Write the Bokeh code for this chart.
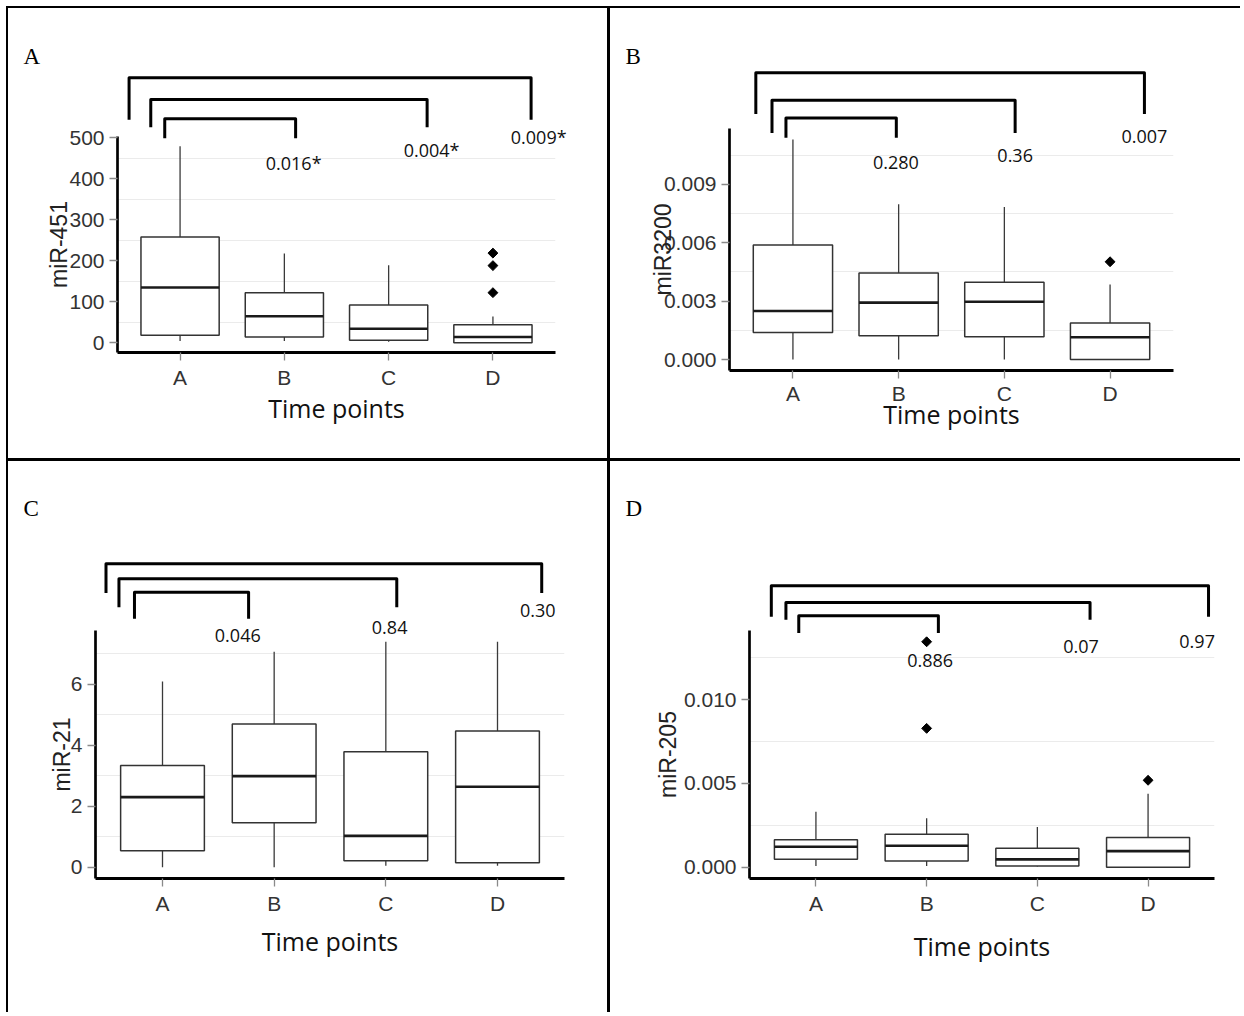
import math
from bokeh.plotting import figure
from bokeh.models import Range1d, FixedTicker, Spacer
from bokeh.layouts import row, column
from bokeh.embed import file_html
from bokeh.resources import INLINE
from bokeh.core.properties import value

categories = ["A", "B", "C", "D"]
x_title = "Time points"

# ---- Panel A : miR-451 ----
a_lower = [4, 4, 2.5, 0]
a_q1 = [18, 14, 6, 0]
a_median = [134.5, 64.5, 34, 14]
a_q3 = [258, 121.5, 92, 44]
a_upper = [479, 217.6, 189, 64]
a_out_cat = ["D", "D", "D"]
a_out_val = [122, 188, 218.5]
a_ticks = [0, 100, 200, 300, 400, 500]
a_tick_labels = ["0", "100", "200", "300", "400", "500"]
a_pvalues = ["0.016*", "0.004*", "0.009*"]
a_bracket_left = [0.853, 0.719, 0.511]
a_bracket_right = [2.108, 3.369, 4.366]
a_bracket_top = [546.2, 593.4, 646.5]
a_bracket_end = [498.8, 525.7, 543.8]
a_pvalue_x = [2.089, 3.412, 4.439]
a_pvalue_y = [437.6, 470.4, 501.0]

# ---- Panel B : miR3200 ----
b_lower = [0.0, 0.0, 0.0, 0.0]
b_q1 = [0.00139, 0.00122, 0.00117, 0.0]
b_median = [0.00249, 0.00292, 0.00297, 0.00114]
b_q3 = [0.00588, 0.00444, 0.00397, 0.00187]
b_upper = [0.0113, 0.00797, 0.00783, 0.00385]
b_out_cat = ["D"]
b_out_val = [0.00502]
b_ticks = [0.0, 0.003, 0.006, 0.009]
b_tick_labels = ["0.000", "0.003", "0.006", "0.009"]
b_pvalues = ["0.280", "0.36", "0.007"]
b_bracket_left = [0.934, 0.802, 0.649]
b_bracket_right = [1.978, 3.102, 4.325]
b_bracket_top = [0.01241, 0.01331, 0.01473]
b_bracket_end = [0.01139, 0.01164, 0.01261]
b_pvalue_x = [1.974, 3.102, 4.325]
b_pvalue_y = [0.01012, 0.01046, 0.01143]

# ---- Panel C : miR-21 ----
c_lower = [0.0, 0.0, 0.05, 0.05]
c_q1 = [0.54, 1.46, 0.21, 0.15]
c_median = [2.30, 2.99, 1.03, 2.64]
c_q3 = [3.34, 4.70, 3.79, 4.47]
c_upper = [6.10, 7.07, 7.40, 7.40]
c_out_cat = []
c_out_val = []
c_ticks = [0, 2, 4, 6]
c_tick_labels = ["0", "2", "4", "6"]
c_pvalues = ["0.046", "0.84", "0.30"]
c_bracket_left = [0.749, 0.610, 0.494]
c_bracket_right = [1.771, 3.098, 4.396]
c_bracket_top = [9.025, 9.471, 9.964]
c_bracket_end = [8.159, 8.532, 9.002]
c_pvalue_x = [1.674, 3.034, 4.361]
c_pvalue_y = [7.597, 7.855, 8.440]

# ---- Panel D : miR-205 ----
d_lower = [0.00007, 0.00007, 0.00005, 0.0]
d_q1 = [0.00047, 0.00037, 0.00007, 0.0]
d_median = [0.00122, 0.00128, 0.00047, 0.00096]
d_q3 = [0.00164, 0.00197, 0.00113, 0.00178]
d_upper = [0.00331, 0.00293, 0.00240, 0.00438]
d_out_cat = ["B", "B", "D"]
d_out_val = [0.00829, 0.01346, 0.00519]
d_ticks = [0.0, 0.005, 0.010]
d_tick_labels = ["0.000", "0.005", "0.010"]
d_pvalues = ["0.886", "0.07", "0.97"]
d_bracket_left = [0.845, 0.729, 0.597]
d_bracket_right = [2.106, 3.476, 4.546]
d_bracket_top = [0.01502, 0.01581, 0.01681]
d_bracket_end = [0.01399, 0.01478, 0.01496]
d_pvalue_x = [2.032, 3.395, 4.443]
d_pvalue_y = [0.01233, 0.01318, 0.01346]

TICK_FONT = "Liberation Sans"
BOX_WIDTH = 0.75


def make_panel(letter, ylabel, lower, q1, med, q3, upper, out_cat, out_val,
               ticks, tick_labels, pvals, bl, br, bt, be, pxs, pys, g):
    xs = [categories.index(c) + 1 for c in categories]
    vals = lower + upper + out_val
    lo, hi = min(vals), max(vals)
    span = hi - lo
    plo, phi = lo - 0.05 * span, hi + 0.05 * span
    x0, x1 = 0.4, 4.6

    p = figure(width=g["w"], height=g["h"],
               x_range=Range1d(x0, x1), y_range=Range1d(plo, phi),
               output_backend="svg", toolbar_location=None,
               min_border_left=g["mbl"], min_border_right=g["mbr"],
               min_border_top=g["mbt"], min_border_bottom=g["mbb"])
    p.outline_line_color = None
    p.background_fill_color = "white"
    p.border_fill_color = "white"

    fw = g["w"] - g["mbl"] - g["mbr"]
    fh = g["h"] - g["mbt"] - g["mbb"]

    # grid: light lines midway between ticks
    step = ticks[1] - ticks[0]
    minor = [t + step / 2 for t in ticks if t + step / 2 <= phi]
    p.xgrid.visible = False
    p.ygrid.ticker = FixedTicker(ticks=minor)
    p.ygrid.grid_line_color = "#ebebeb"
    p.ygrid.grid_line_width = 1.2

    # axes
    xa = p.xaxis[0]
    xa.ticker = FixedTicker(ticks=xs)
    xa.major_label_overrides = {x: c for x, c in zip(xs, categories)}
    xa.axis_line_color = "black"
    xa.axis_line_width = 3
    xa.major_tick_in = 0
    xa.major_tick_out = 8
    xa.major_tick_line_color = "#8a8a8a"
    xa.major_tick_line_width = 1.3
    xa.minor_tick_line_color = None
    xa.major_label_text_font = TICK_FONT
    xa.major_label_text_font_size = "21px"
    xa.major_label_text_color = "#333333"
    xa.major_label_standoff = g["xls"]
    xa.axis_label = x_title
    xa.axis_label_text_font = "Open Sans"
    xa.axis_label_text_font_size = "25px"
    xa.axis_label_text_font_style = "normal"
    xa.axis_label_text_color = "#111111"
    xa.axis_label_standoff = g["xas"]

    ya = p.yaxis[0]
    ya.ticker = FixedTicker(ticks=ticks)
    ya.major_label_overrides = {t: s for t, s in zip(ticks, tick_labels)}
    ya.axis_line_color = "black"
    ya.axis_line_width = 2.7
    ya.major_tick_in = 0
    ya.major_tick_out = 8
    ya.major_tick_line_color = "#8a8a8a"
    ya.major_tick_line_width = 1.3
    ya.minor_tick_line_color = None
    ya.major_label_text_font = TICK_FONT
    ya.major_label_text_font_size = "21px"
    ya.major_label_text_color = "#333333"
    ya.major_label_standoff = 5
    ya.axis_label = ylabel
    ya.axis_label_text_font = "Liberation Sans"
    ya.axis_label_text_font_size = "23px"
    ya.axis_label_text_font_style = "normal"
    ya.axis_label_text_color = "#222222"
    ya.axis_label_standoff = g["yas"]

    # whiskers
    p.segment(x0=xs, y0=q3, x1=xs, y1=upper, line_color="#3a3a3a", line_width=1.3)
    p.segment(x0=xs, y0=q1, x1=xs, y1=lower, line_color="#3a3a3a", line_width=1.3)
    # boxes
    p.vbar(x=xs, width=BOX_WIDTH, top=q3, bottom=q1, fill_color="white",
           line_color="#333333", line_width=1.5)
    # medians
    p.segment(x0=[x - BOX_WIDTH / 2 for x in xs], y0=med,
              x1=[x + BOX_WIDTH / 2 for x in xs], y1=med,
              line_color="#1a1a1a", line_width=2.6)
    # outliers
    if out_val:
        ox = [categories.index(c) + 1 for c in out_cat]
        p.scatter(x=ox, y=out_val, marker="square", angle=math.pi / 4,
                  size=7, fill_color="black", line_color="black")

    # comparison brackets and p-values (drawn above the panel)
    bxs = [[l, l, r, r] for l, r in zip(bl, br)]
    bys = [[e, t, t, e] for t, e in zip(bt, be)]
    p.multi_line(xs=bxs, ys=bys, line_color="black", line_width=3,
                 line_join="round", level="overlay")
    p.text(x=pxs, y=pys, text=pvals, text_align="center", text_baseline="middle",
           text_font=value("Open Sans"), text_font_size="18px",
           text_color="#111111", level="overlay")

    # panel letter, placed from its pixel offset relative to the plot frame
    lx = x0 + (x1 - x0) * g["lx"] / fw
    ly = plo + (phi - plo) * g["ly"] / fh
    p.text(x=[lx], y=[ly], text=[letter], text_align="left",
           text_baseline="alphabetic", text_font=value("Liberation Serif"),
           text_font_size="23px", text_color="black", level="overlay")
    return p


# geometry: w/h figure size, min borders, letter offset (px from frame left / bottom),
# tick-label and axis-label standoffs
pA = make_panel("A", "miR-451", a_lower, a_q1, a_median, a_q3, a_upper, a_out_cat, a_out_val,
                a_ticks, a_tick_labels, a_pvalues, a_bracket_left, a_bracket_right,
                a_bracket_top, a_bracket_end, a_pvalue_x, a_pvalue_y,
                dict(w=599, h=416, mbl=109, mbr=52, mbt=112, mbb=88,
                     lx=-94, ly=296, xls=5, xas=-1, yas=-6))
pB = make_panel("B", "miR3200", b_lower, b_q1, b_median, b_q3, b_upper, b_out_cat, b_out_val,
                b_ticks, b_tick_labels, b_pvalues, b_bracket_left, b_bracket_right,
                b_bracket_top, b_bracket_end, b_pvalue_x, b_pvalue_y,
                dict(w=630, h=442, mbl=119, mbr=67, mbt=112, mbb=88,
                     lx=-104, ly=314, xls=3, xas=-11, yas=-15))
pC = make_panel("C", "miR-21", c_lower, c_q1, c_median, c_q3, c_upper, c_out_cat, c_out_val,
                c_ticks, c_tick_labels, c_pvalues, c_bracket_left, c_bracket_right,
                c_bracket_top, c_bracket_end, c_pvalue_x, c_pvalue_y,
                dict(w=599, h=551, mbl=87, mbr=43, mbt=169, mbb=134,
                     lx=-72, ly=370, xls=5, xas=6, yas=-7))
pD = make_panel("D", "miR-205", d_lower, d_q1, d_median, d_q3, d_upper, d_out_cat, d_out_val,
                d_ticks, d_tick_labels, d_pvalues, d_bracket_left, d_bracket_right,
                d_bracket_top, d_bracket_end, d_pvalue_x, d_pvalue_y,
                dict(w=630, h=551, mbl=139, mbr=26, mbt=169, mbb=134,
                     lx=-124, ly=370, xls=5, xas=11, yas=0))


def rule(w, h):
    return Spacer(width=w, height=h, styles={"background-color": "black"})


def gap(w, h):
    return Spacer(width=w, height=h)


top_row = row(gap(6, 450), rule(2, 450),
              column(gap(599, 16), pA, gap(599, 18)),
              rule(3, 450),
              column(gap(630, 8), pB))
bottom_row = row(gap(6, 551), rule(2, 551), pC, rule(3, 551), pD)
layout = column(gap(1240, 6),
                row(gap(6, 2), rule(1234, 2)),
                top_row,
                row(gap(6, 3), rule(1234, 3)),
                bottom_row)

open("out.html", "w").write(file_html(layout, INLINE))
